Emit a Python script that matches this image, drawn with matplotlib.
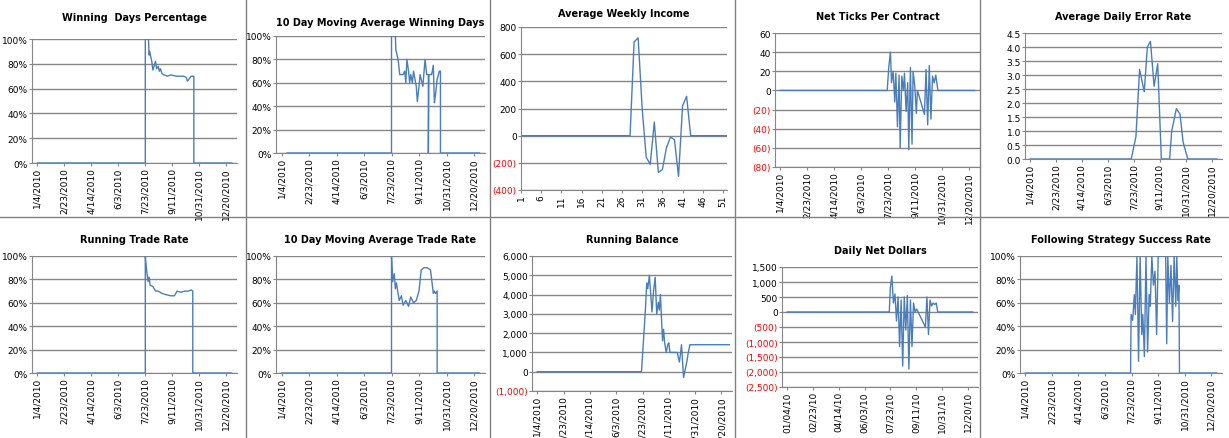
import matplotlib.pyplot as plt
import numpy as np
import datetime as dt

LINE = "#4a7ebb"
GRID = "#868686"

start = dt.date(2010, 1, 4)
date_ticks = [start + dt.timedelta(days=50 * i) for i in range(8)]
tick_labels = [f"{d.month}/{d.day}/{d.year}" for d in date_ticks]
tick_labels_short = [f"{d.month:02d}/{d.day:02d}/10" for d in date_ticks]

# day offsets from 1/4/2010
win_pct_x = [0, 200, 200, 206, 207, 208, 209, 212, 214, 217, 219, 221, 224, 226, 228, 231, 235, 241, 247, 259, 271, 276, 278, 280, 283, 285, 290, 290, 360]
win_pct_y = [0, 0, 1.0, 1.0, 0.87, 0.9, 0.88, 0.82, 0.75, 0.79, 0.82, 0.76, 0.78, 0.74, 0.76, 0.72, 0.71, 0.70, 0.71, 0.70, 0.70, 0.69, 0.66, 0.67, 0.69, 0.70, 0.70, 0, 0]

ma_win_x = [10, 200, 200, 207, 208, 212, 215, 221, 224, 226, 228, 231, 233, 235, 238, 240, 245, 247, 250, 252, 257, 261, 264, 267, 267, 268, 273, 276, 278, 280, 283, 287, 289, 289, 360]
ma_win_y = [0, 0, 1.0, 1.0, 0.88, 0.8, 0.67, 0.67, 0.7, 0.6, 0.8, 0.7, 0.6, 0.67, 0.6, 0.7, 0.57, 0.44, 0.57, 0.67, 0.57, 0.8, 0.67, 0.67, 0.0, 0.67, 0.67, 0.75, 0.43, 0.5, 0.63, 0.7, 0.7, 0, 0]

weeks = list(range(1, 53))
weekly_income = [0] * 28 + [690, 720, 200, -160, -210, 100, -270, -250, -90, -10, -30, -300, 220, 290, 0] + [0] * 9

ticks_x = [0, 198, 201, 204, 206, 209, 212, 214, 217, 220, 222, 225, 228, 230, 233, 236, 238, 241, 244, 246, 249, 252, 254,
           267, 270, 273, 276, 279, 282, 285, 288, 292, 360]
ticks_y = [0, 0, 25, 40, 8, 20, -12, 18, -38, 16, -60, 15, 0, 18, -22, 8, -62, 24, -56, 20, 5, -24, 0,
           -25, 22, -36, 26, -30, 15, 8, 16, 0, 0]

err_x = [0, 195, 204, 211, 220, 226, 232, 239, 246, 253, 269, 273, 282, 289, 295, 304, 360]
err_y = [0, 0, 0.8, 3.2, 2.4, 4.0, 4.2, 2.6, 3.4, 0.0, 0.0, 1.0, 1.8, 1.6, 0.6, 0.0, 0]

trade_x = [0, 200, 200, 202, 205, 207, 209, 214, 219, 224, 231, 238, 247, 254, 259, 266, 273, 280, 285, 288, 288, 360]
trade_y = [0, 0, 1.0, 0.9, 0.78, 0.82, 0.75, 0.74, 0.7, 0.7, 0.68, 0.67, 0.66, 0.66, 0.7, 0.69, 0.7, 0.7, 0.71, 0.7, 0, 0]

ma_trade_x = [0, 200, 200, 202, 205, 207, 209, 214, 218, 221, 226, 231, 235, 240, 245, 250, 254, 259, 265, 271, 276, 278, 280, 283, 283, 360]
ma_trade_y = [0, 0, 1.0, 0.78, 0.85, 0.72, 0.77, 0.62, 0.66, 0.58, 0.62, 0.57, 0.65, 0.6, 0.62, 0.7, 0.88, 0.9, 0.9, 0.88, 0.68, 0.7, 0.68, 0.7, 0, 0]

bal_x = [0, 198, 205, 208, 210, 213, 218, 221, 224, 227, 230, 232, 234, 238, 240, 242, 245, 248, 250, 252, 258, 266, 270, 272, 274, 278, 281, 284, 287, 290, 365]
bal_y = [0, 0, 3000, 4600, 4300, 5000, 3100, 4200, 4900, 3000, 3600, 3200, 4000, 1600, 2200, 1500, 1000, 1400, 1500, 1000, 1000, 1000, 500, 900, 1400, -300, 100, 500, 1000, 1400, 1400]

net_x = [0, 198, 200, 203, 206, 209, 212, 215, 218, 221, 224, 227, 230, 233, 236, 239, 242, 245, 248, 251,
         268, 271, 274, 277, 280, 283, 286, 289, 292, 360]
net_y = [0, 0, 800, 1200, 300, 600, -300, 500, -1150, 400, -1800, 500, -600, 550, -1900, 400, -1150, 300, 0, 100,
         -500, 500, -750, 400, 200, 300, 250, 300, 0, 0]

succ_x = [0, 198, 199, 202, 205, 207, 210, 213, 216, 219, 221, 224, 227, 230, 233, 235, 238, 241, 244, 247, 250,
          264, 266, 268, 271, 274, 277, 280, 283, 285, 287, 289, 290, 360]
succ_y = [0, 0, 0.5, 0.45, 0.67, 0.5, 1.0, 0.1, 1.0, 0.33, 0.5, 0.14, 1.0, 0.18, 0.67, 0.57, 1.0, 0.75, 0.87, 0.33, 1.0,
          1.0, 0.25, 1.0, 0.6, 0.92, 0.44, 1.0, 0.57, 1.0, 0.62, 0.75, 0, 0]


def paren(v, fmt):
    s = fmt.format(abs(v))
    return f"({s})" if v < 0 else s


def setup(ax, title, ylim, ystep, yfmt, xmode="date", short=False, pad=16):
    ax.set_title(title, fontsize=7, fontweight="bold", pad=pad)
    ax.set_ylim(*ylim)
    yt = np.arange(ylim[0], ylim[1] + ystep / 2, ystep)
    ax.set_yticks(yt)
    ax.set_yticklabels([yfmt(v) for v in yt], fontsize=6.5)
    for lab, v in zip(ax.get_yticklabels(), yt):
        if v < -1e-9:
            lab.set_color("red")
    ax.yaxis.grid(True, color=GRID, linewidth=1)
    ax.set_axisbelow(True)
    for s in ["top", "right"]:
        ax.spines[s].set_visible(False)
    ax.spines["left"].set_color(GRID)
    ax.spines["bottom"].set_color(GRID)
    ax.tick_params(length=2, color=GRID, pad=1)
    if xmode == "date":
        ax.set_xlim(-10, 370)
        ax.set_xticks([50 * i for i in range(8)])
        ax.set_xticklabels(tick_labels_short if short else tick_labels, rotation=90, fontsize=6.5)


def box(fig, x0, y0, x1, y1):
    W, H = 1229, 439
    return fig.add_axes([x0 / W, 1 - y1 / H, (x1 - x0) / W, (y1 - y0) / H])


fig = plt.figure(figsize=(12.29, 4.39), dpi=100)
fig.patch.set_facecolor("white")

pct = lambda v: f"{v * 100:.0f}%"

ax = box(fig, 32, 40, 237, 164)
ax.plot(win_pct_x, win_pct_y, color=LINE, lw=1)
setup(ax, "Winning  Days Percentage", (0, 1), 0.2, pct, pad=14)

ax = box(fig, 276, 37, 485, 154)
ax.plot(ma_win_x, ma_win_y, color=LINE, lw=1)
setup(ax, "10 Day Moving Average Winning Days", (0, 1), 0.2, pct, pad=8)

ax = box(fig, 521, 28, 727, 191)
ax.plot(weeks, weekly_income, color=LINE, lw=1)
setup(ax, "Average Weekly Income", (-400, 800), 200, lambda v: paren(v, "{:.0f}"), xmode="num", pad=8)
ax.set_xlim(1, 52)
ax.set_xticks(list(range(1, 52, 5)))
ax.set_xticklabels([str(w) for w in range(1, 52, 5)], rotation=90, fontsize=6.5)

ax = box(fig, 775, 34, 980, 168)
ax.plot(ticks_x, ticks_y, color=LINE, lw=1)
setup(ax, "Net Ticks Per Contract", (-80, 60), 20, lambda v: paren(v, "{:.0f}"), pad=10)

ax = box(fig, 1025, 34, 1222, 160)
ax.plot(err_x, err_y, color=LINE, lw=1)
setup(ax, "Average Daily Error Rate", (0, 4.5), 0.5, lambda v: f"{v:.1f}", pad=10)

ax = box(fig, 32, 257, 237, 374)
ax.plot(trade_x, trade_y, color=LINE, lw=1)
setup(ax, "Running Trade Rate", (0, 1), 0.2, pct, pad=10)

ax = box(fig, 276, 257, 485, 374)
ax.plot(ma_trade_x, ma_trade_y, color=LINE, lw=1)
setup(ax, "10 Day Moving Average Trade Rate", (0, 1), 0.2, pct, pad=10)

ax = box(fig, 532, 257, 732, 392)
ax.plot(bal_x, bal_y, color=LINE, lw=1)
setup(ax, "Running Balance", (-1000, 6000), 1000, lambda v: paren(v, "{:,.0f}"), pad=10)

ax = box(fig, 782, 268, 978, 388)
ax.plot(net_x, net_y, color=LINE, lw=1)
setup(ax, "Daily Net Dollars", (-2500, 1500), 500, lambda v: paren(v, "{:,.0f}"), short=True, pad=10)

ax = box(fig, 1020, 257, 1222, 374)
ax.plot(succ_x, succ_y, color=LINE, lw=1)
setup(ax, "Following Strategy Success Rate", (0, 1), 0.2, pct, pad=10)

# panel separators
for x in [246, 490, 735, 980]:
    fig.add_artist(plt.Line2D([x / 1229, x / 1229], [0, 1], color="#808080", lw=1))
fig.add_artist(plt.Line2D([0, 1], [1 - 218 / 439, 1 - 218 / 439], color="#808080", lw=1))

fig.savefig("out.png", dpi=100)
